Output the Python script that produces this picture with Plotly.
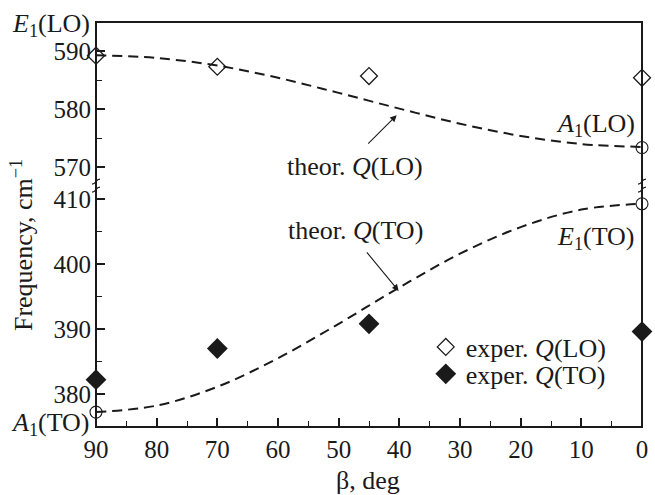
import plotly.graph_objects as go

# ---- data ----
beta_curve = [90, 80, 70, 60, 50, 40, 30, 20, 10, 0]
theor_lo = [589.3, 588.8, 587.5, 585.4, 582.8, 580.1, 577.5, 575.4, 574.0, 573.5]
theor_to = [377.2, 378.2, 381.1, 385.5, 390.8, 396.4, 401.6, 405.7, 408.4, 409.3]

beta_exp = [90, 70, 45, 0]
exper_lo = [589.2, 587.3, 585.7, 585.4]
exper_to = [382.2, 387.0, 390.8, 389.6]

beta_mode_lo = [0]
mode_lo = [573.4]
beta_mode_to = [90, 0]
mode_to = [377.2, 409.3]

x_ticks = [90, 80, 70, 60, 50, 40, 30, 20, 10, 0]
y_ticks_low = [380, 390, 400, 410]
y_ticks_up = [570, 580, 590]

FONT = "Liberation Serif"
INK = "#1a1a1a"
TXT = 26
TICK = 25

fig = go.Figure()

dash_line = dict(color=INK, width=2, dash="10px,6px", shape="spline", smoothing=1.0)

fig.add_trace(go.Scatter(x=beta_curve, y=theor_lo, mode="lines", line=dash_line,
                         xaxis="x", yaxis="y2", showlegend=False, cliponaxis=False))
fig.add_trace(go.Scatter(x=beta_curve, y=theor_to, mode="lines", line=dash_line,
                         xaxis="x", yaxis="y", showlegend=False, cliponaxis=False))

fig.add_trace(go.Scatter(x=beta_mode_lo, y=mode_lo, mode="markers",
                         marker=dict(symbol="circle-open", size=12, color=INK, line=dict(width=1.1)),
                         xaxis="x", yaxis="y2", showlegend=False, cliponaxis=False))
fig.add_trace(go.Scatter(x=beta_mode_to, y=mode_to, mode="markers",
                         marker=dict(symbol="circle-open", size=12, color=INK, line=dict(width=1.1)),
                         xaxis="x", yaxis="y", showlegend=False, cliponaxis=False))

fig.add_trace(go.Scatter(x=beta_exp, y=exper_lo, mode="markers", name="exper. <i>Q</i>(LO)",
                         marker=dict(symbol="diamond-open", size=13, color=INK, line=dict(width=1.3)),
                         xaxis="x", yaxis="y2", cliponaxis=False, legend="legend"))
fig.add_trace(go.Scatter(x=beta_exp, y=exper_to, mode="markers", name="exper. <i>Q</i>(TO)",
                         marker=dict(symbol="diamond", size=16, color=INK),
                         xaxis="x", yaxis="y", cliponaxis=False, legend="legend2"))

BREAK = 0.6025

axis_common = dict(showgrid=False, zeroline=False, showline=False,
                   ticks="inside", ticklen=9, tickwidth=1.5, tickcolor=INK,
                   tickfont=dict(family=FONT, size=TICK, color=INK))
minor = dict(ticks="inside", dtick=5, ticklen=6, tickwidth=1.3, tickcolor=INK)

leg_common = dict(xanchor="left", yanchor="middle", bgcolor="rgba(0,0,0,0)",
                  font=dict(family=FONT, size=TXT, color=INK), itemsizing="trace")

fig.update_layout(
    width=655, height=495,
    margin=dict(l=96, r=7, t=22, b=68),
    paper_bgcolor="white", plot_bgcolor="white",
    font=dict(family=FONT, size=TXT, color=INK),
    xaxis=dict(range=[90, 0], domain=[0, 1], anchor="y", tickvals=x_ticks,
               minor=minor, ticklabelstandoff=5, **axis_common),
    yaxis=dict(range=[374.9, 412.5], domain=[0, BREAK], anchor="x", tickvals=y_ticks_low,
               minor=minor, ticklabelstandoff=4, **axis_common),
    yaxis2=dict(range=[567.3, 595.0], domain=[BREAK, 1], anchor="x", tickvals=y_ticks_up,
                minor=minor, ticklabelstandoff=4, **axis_common),
    legend=dict(x=0.604, y=0.1975, **leg_common),
    legend2=dict(x=0.604, y=0.131, **leg_common),
)

# frame
fig.add_shape(type="rect", xref="paper", yref="paper", x0=0, x1=1, y0=0, y1=1,
              line=dict(color=INK, width=2), layer="above")

# axis break marks
for xp in (0, 1):
    for p in ("M4,7 C-1,7 1,2 -4,2", "M4,-1 C-1,-1 1,-6 -4,-6"):
        fig.add_shape(type="path", xref="paper", yref="paper",
                      xsizemode="pixel", ysizemode="pixel", xanchor=xp, yanchor=0.595,
                      path=p, line=dict(color=INK, width=1.3), layer="above")

ann = []
def txt(text, x, y, xanchor="center", yanchor="middle", **kw):
    ann.append(dict(text=text, x=x, y=y, xref="paper", yref="paper", showarrow=False,
                    xanchor=xanchor, yanchor=yanchor,
                    font=dict(family=FONT, size=TXT, color=INK), **kw))

txt("<i>E</i><sub>1</sub>(LO)", -0.008, 0.993, xanchor="right")
txt("<i>A</i><sub>1</sub>(LO)", 0.991, 0.745, xanchor="right")
txt("<i>E</i><sub>1</sub>(TO)", 0.991, 0.466, xanchor="right")
txt("<i>A</i><sub>1</sub>(TO)", -0.008, 0.008, xanchor="right")
txt("theor. <i>Q</i>(LO)", 0.4746, 0.644)
txt("theor. <i>Q</i>(TO)", 0.4746, 0.484)
txt("β, deg", 0.498, -0.133)
txt("Frequency, cm<sup>−1</sup>", -0.135, 0.45, textangle=-90)

# arrows
for (hx, hy, ax, ay) in [(0.5507, 0.770, -30, 30), (0.5543, 0.336, -33, -40)]:
    ann.append(dict(text="", x=hx, y=hy, xref="paper", yref="paper", showarrow=True,
                    ax=ax, ay=ay, arrowhead=2, arrowsize=1.2, arrowwidth=1.1, arrowcolor=INK))

fig.update_layout(annotations=ann)

fig.write_html("out.html")
